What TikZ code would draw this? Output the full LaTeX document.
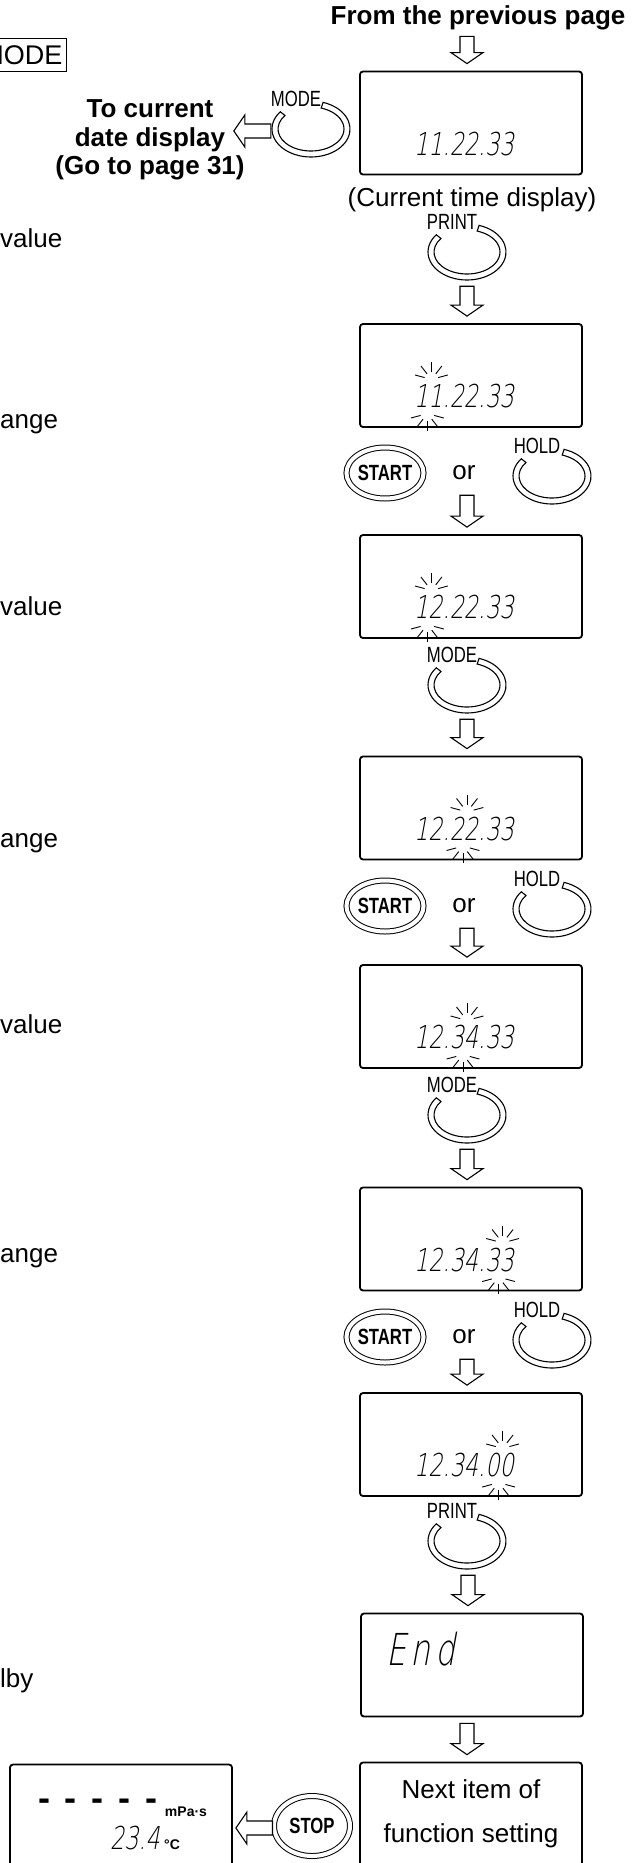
\documentclass[tikz,border=0pt]{standalone}
\usepackage{fontspec}
\setmainfont{Liberation Sans}
\newfontfamily\segfont[FakeSlant=0.18,FakeStretch=0.71]{DejaVu Sans ExtraLight}
\newfontfamily\keyfont[FakeStretch=0.76]{Liberation Sans}
\usetikzlibrary{calc,positioning,shapes.geometric}

% key drawn as an open ring, its name sitting in the gap
\newcommand\ringkey[3]{%
  \node[keyspot] (#1) at (#2) {};
  \draw[keyring] ([shift={(72:39pt and 28pt)}]#1.center)
      arc[start angle=72, end angle=-218, x radius=39pt, y radius=28pt]
    -- ([shift={(-218:33pt and 22pt)}]#1.center)
      arc[start angle=-218, end angle=72, x radius=33pt, y radius=22pt] -- cycle;
  \node[keylabel] (#1-lbl) at ([shift={(-15pt,30pt)}]#1.center) {#3};
}
% hollow arrow pointing down
\newcommand\dropto[2]{%
  \draw[hollow] let \p1=($(#1)+(0,6)$), \p2=($(#2)+(0,-7)$) in
    (\x2-11pt,\y1) -- (\x2+3pt,\y1) -- (\x2+3pt,\y2+11pt) -- (\x2+12pt,\y2+11pt)
    -- (\x2-4pt,\y2) -- (\x2-20pt,\y2+11pt) -- (\x2-11pt,\y2+11pt) -- cycle;}
% hollow arrow pointing left
\newcommand\sendleft[3]{%
  \draw[hollow] let \p1=($(#1)+(-1,2)$), \p2=($(#2)+(#3,0)$) in
    (\x1,\y1-7pt) -- (\x1,\y1+7pt) -- (\x2+11pt,\y1+7pt) -- (\x2+11pt,\y1+16pt)
    -- (\x2,\y1) -- (\x2+11pt,\y1-16pt) -- (\x2+11pt,\y1-7pt) -- cycle;}
% blinking marks above and below a digit pair
\newcommand\blinkat[2]{%
  \foreach \a in {15,52,90,128,165}{%
    \draw[blinkray] ([shift={(#2+3pt,5pt)}]#1.north) ++(\a:7pt) -- ++(\a:10pt);
    \draw[blinkray] ([shift={(#2-1pt,-5pt)}]#1.south) ++(-\a:7pt) -- ++(-\a:10pt);
  }}

\begin{document}
\begin{tikzpicture}[
    x=1pt, y=-1pt,
    lcd/.style={draw, line width=1.8pt, rounded corners=3pt, minimum width=222pt, minimum height=103pt, inner sep=0pt},
    digits/.style={font=\segfont\fontsize{31.5}{32}\selectfont, inner sep=0pt},
    keyspot/.style={minimum width=78pt, minimum height=56pt, inner sep=0pt},
    keyring/.style={draw, line width=1.1pt, fill=white},
    keylabel/.style={font=\keyfont\fontsize{22}{22}\selectfont, inner sep=0pt},
    pushkey/.style={ellipse, draw, double, double distance=4pt, line width=1pt, minimum width=76pt, minimum height=51pt, inner sep=0pt, font=\keyfont\bfseries\fontsize{22}{22}\selectfont},
    body/.style={font=\fontsize{26}{30}\selectfont, inner sep=0pt},
    heading/.style={font=\bfseries\fontsize{26}{28.5}\selectfont, inner sep=0pt, align=center},
    cut/.style={font=\fontsize{26}{30}\selectfont, inner sep=0pt, anchor=base west},
    hollow/.style={draw, line width=1.1pt, fill=white},
    blinkray/.style={line width=0.9pt},
]
\path[use as bounding box, clip] (0,0) rectangle (640,1863);

% left margin, cut off
\node[draw, line width=1.2pt, inner xsep=4pt, inner ysep=7pt, font=\fontsize{27}{30}\selectfont, anchor=east] (modetag) at (67,55) {MODE};
\node[cut] (cut1) at (0,247) {value};
\node[cut] (cut2) at (0,428) {ange};
\node[cut] (cut3) at (0,615) {value};
\node[cut] (cut4) at (0,847) {ange};
\node[cut] (cut5) at (0,1033) {value};
\node[cut] (cut6) at (0,1262) {ange};
\node[cut] (cut7) at (0,1687) {lby};

% current time
\node[heading] (from) at (478,18) {From the previous page};
\node[lcd] (clock) at (471,123) {};
\node[digits] (clockdig) at ($(clock.center)+(-7,21)$) {11.22.33};
\node[body] (clocknote) at (472,200) {(Current time display)};
\ringkey{mode1}{311,129}{MODE}
\node[heading] (todate) at (150,140) {To current\\date display\\(Go to page 31)};
\dropto{from.south}{clock.north}
\sendleft{mode1.west}{todate.east}{-11}

% hours
\ringkey{print1}{467,252}{PRINT}
\node[lcd] (hourA) at (471,375.5) {};
\node[digits] (hourAdig) at ($(hourA.center)+(-7,21)$) {11.22.33};
\blinkat{hourAdig}{-35.6pt}
\dropto{print1.south}{hourA.north}
\node[pushkey] (start1) at (385,473) {START};
\node[body, minimum height=32pt] (or1) at (464,473) {or};
\ringkey{hold1}{552,476}{HOLD}
\node[lcd] (hourB) at (471,586.5) {};
\node[digits] (hourBdig) at ($(hourB.center)+(-7,21)$) {12.22.33};
\blinkat{hourBdig}{-35.6pt}
\dropto{or1.south}{hourB.north}

% minutes
\ringkey{mode2}{467,685}{MODE}
\node[lcd] (minA) at (471,808) {};
\node[digits] (minAdig) at ($(minA.center)+(-7,21)$) {12.22.33};
\blinkat{minAdig}{0pt}
\dropto{mode2.south}{minA.north}
\node[pushkey] (start2) at (385,906) {START};
\node[body, minimum height=32pt] (or2) at (464,906) {or};
\ringkey{hold2}{552,909}{HOLD}
\node[lcd] (minB) at (471,1016.5) {};
\node[digits] (minBdig) at ($(minB.center)+(-7,21)$) {12.34.33};
\blinkat{minBdig}{0pt}
\dropto{or2.south}{minB.north}

% seconds
\ringkey{mode3}{467,1115}{MODE}
\node[lcd] (secA) at (471,1239) {};
\node[digits] (secAdig) at ($(secA.center)+(-7,21)$) {12.34.33};
\blinkat{secAdig}{35.6pt}
\dropto{mode3.south}{secA.north}
\node[pushkey] (start3) at (385,1337) {START};
\node[body, minimum height=32pt] (or3) at (464,1337) {or};
\ringkey{hold3}{552,1340}{HOLD}
\node[lcd] (secB) at (471,1444.5) {};
\node[digits] (secBdig) at ($(secB.center)+(-7,21)$) {12.34.00};
\blinkat{secBdig}{35.6pt}
\dropto{or3.south}{secB.north}

% end of setting
\ringkey{print2}{467,1541}{PRINT}
\node[lcd] (done) at (472,1665) {};
\node[font=\segfont\fontsize{44}{44}\selectfont, inner sep=0pt, anchor=base west] (donetxt) at (386,1665) {E\hspace{5pt}n\hspace{5pt}d};
\dropto{print2.south}{done.north}
\node[lcd, body, align=center, font=\fontsize{26}{44}\selectfont] (nextitem) at (471,1814) {Next item of\\function setting};
\dropto{done.south}{nextitem.north}

% back to standby
\node[pushkey, minimum height=60pt] (stop) at (312,1826) {STOP};
\node[lcd] (standby) at (121,1816) {};
\node[font=\bfseries\fontsize{36}{36}\selectfont, inner sep=0pt, anchor=base] (dashes) at (98,1810) {-\hspace{15pt}-\hspace{15pt}-\hspace{15pt}-\hspace{15pt}-};
\node[font=\bfseries\fontsize{14}{14}\selectfont, inner sep=0pt] (unit) at (186,1812) {mPa·s};
\node[digits] (tempdig) at (135,1838.5) {23.4};
\node[font=\bfseries\fontsize{14}{14}\selectfont, inner sep=0pt, anchor=base west] (degc) at (164,1849) {°C};
\sendleft{stop.west}{standby.east}{3}
\end{tikzpicture}
\end{document}
